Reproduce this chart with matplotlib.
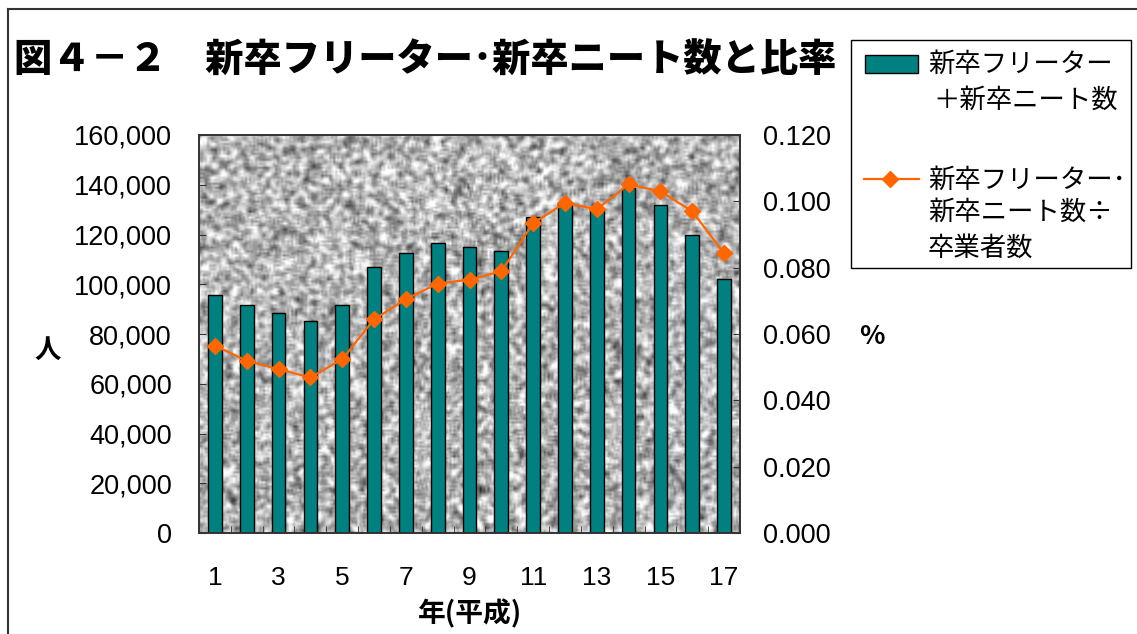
import numpy as np
import matplotlib
matplotlib.use('Agg')
import matplotlib.pyplot as plt
from matplotlib.lines import Line2D
from matplotlib.patches import Rectangle
from matplotlib.ticker import FuncFormatter, FixedLocator

plt.rcParams['font.family'] = ['Liberation Sans', 'Noto Sans CJK JP', 'DejaVu Sans']
JP = ['Noto Sans CJK JP', 'DejaVu Sans']

years = list(range(1, 18))
# 新卒フリーター＋新卒ニート数（人）
counts = [95700, 91700, 88400, 85200, 91700, 107000, 112400, 116500, 115000,
          113400, 127200, 132500, 130200, 138600, 131900, 119700, 102100]
# 新卒フリーター・新卒ニート数÷卒業者数
ratio = [0.0565, 0.0519, 0.0494, 0.0469, 0.0524, 0.0644, 0.0705, 0.0752, 0.0764,
         0.0789, 0.0934, 0.0995, 0.0976, 0.1051, 0.1030, 0.0970, 0.0843]
xlabels = [str(y) if y % 2 == 1 else '' for y in years]

W, H = 1137, 634
fig = plt.figure(figsize=(W / 100, H / 100), dpi=100)
ax = fig.add_axes([199 / W, 1 - 533 / H, 541 / W, 398 / H])


def px(x, y):
    # pixel position -> figure fraction
    return x / W, 1 - y / H


# granite-like background texture (decoration only)
rng = np.random.default_rng(3)
noise = rng.random((200, 270))
tex = np.zeros_like(noise)
for dy in (-1, 0, 1):
    for dx in (-1, 0, 1):
        tex += np.roll(np.roll(noise, dy, 0), dx, 1)
tex /= 9
tex = (tex - tex.mean()) / tex.std()
ax.imshow(tex, cmap='gray', vmin=-5.2, vmax=2.1, extent=[0, 1, 0, 1],
          transform=ax.transAxes, aspect='auto', interpolation='bilinear', zorder=0)

x = np.arange(len(years))
ax.bar(x, counts, width=0.43, color='#008080', edgecolor='black', linewidth=1, zorder=2)
ax.set_xlim(-0.5, len(years) - 0.5)
ax.set_ylim(0, 160000)
ax.set_yticks(np.arange(0, 160001, 20000))
ax.yaxis.set_major_formatter(FuncFormatter(lambda v, p: f'{int(v):,}'))
ax.set_xticks(x)
ax.set_xticklabels(xlabels)
ax.xaxis.set_minor_locator(FixedLocator(np.arange(0.5, len(years) - 1, 1)))
ax.tick_params(axis='x', which='major', length=0, pad=24, labelsize=19)
ax.tick_params(axis='x', which='minor', direction='in', length=5, color='#333333')
ax.tick_params(axis='y', direction='in', length=5, pad=19.5, labelsize=19.5, color='#333333')

ax2 = ax.twinx()
ax2.plot(x, ratio, color='#ff6600', linewidth=1.6, marker='D', markersize=8.5,
         markerfacecolor='#ff6600', markeredgecolor='#ff6600', zorder=3)
ax2.set_ylim(0, 0.12)
ax2.set_yticks(np.arange(0, 0.1201, 0.02))
ax2.yaxis.set_major_formatter(FuncFormatter(lambda v, p: f'{v:.3f}'))
ax2.tick_params(axis='y', direction='in', length=5, pad=16.5, labelsize=19.5, color='#333333')

for a in (ax, ax2):
    for s in a.spines.values():
        s.set_color('#333333')
        s.set_linewidth(1.2)

fig.text(*px(425, 61), '図４－２　新卒フリーター･新卒ニート数と比率',
         ha='center', va='center', fontsize=27.5, fontweight='black', family=JP)
fig.text(*px(48, 350), '人', ha='center', va='center', fontsize=19,
         fontweight='bold', family=JP)
fig.text(*px(872, 337), '%', ha='center', va='center', fontsize=19,
         fontweight='bold', family=JP)
fig.text(*px(470, 614), '年(平成)', ha='center', va='center', fontsize=20,
         fontweight='bold', family=JP)

# legend (drawn by hand so the keys sit on the first text line)
fig.add_artist(Rectangle(px(851, 268), 280 / W, 228 / H, transform=fig.transFigure,
                         facecolor='white', edgecolor='black', linewidth=1))
fig.add_artist(Rectangle(px(865, 73), 53 / W, 18 / H, transform=fig.transFigure,
                         facecolor='#008080', edgecolor='black', linewidth=1))
fig.add_artist(Line2D([864 / W, 919 / W], [1 - 179 / H] * 2, color='#ff6600', linewidth=1.6))
fig.add_artist(Line2D([890 / W], [1 - 179 / H], color='#ff6600', marker='D', markersize=8.5))
leg_lines = [(928, 64, '新卒フリーター'), (933, 100, '＋新卒ニート数'),
             (928, 180, '新卒フリーター･'), (928, 212, '新卒ニート数÷'), (928, 248, '卒業者数')]
for lx, ly, s in leg_lines:
    fig.text(*px(lx, ly), s, ha='left', va='center', fontsize=19, family=JP)

# outer frame
fig.add_artist(Line2D([8 / W, 8 / W], [0, 1 - 9 / H], color='#333333', linewidth=1.5))
fig.add_artist(Line2D([8 / W, 1], [1 - 9 / H, 1 - 9 / H], color='#333333', linewidth=1.5))

fig.savefig('out.png', dpi=100)
